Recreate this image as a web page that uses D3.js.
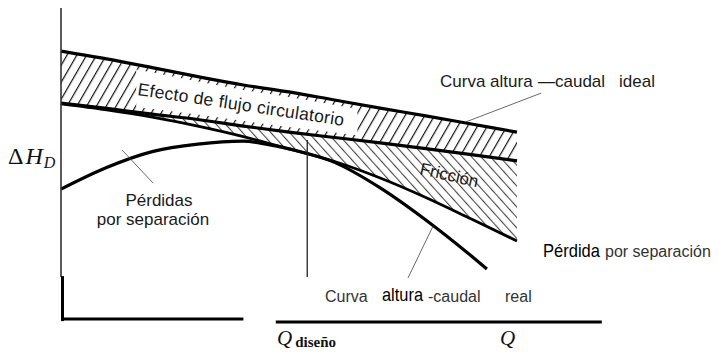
<!DOCTYPE html>
<html>
<head>
<meta charset="utf-8">
<script src="https://cdn.jsdelivr.net/npm/d3@7"></script>
<style>
  html, body { margin: 0; padding: 0; background: #fff; }
  svg { display: block; }
  .sans { font-family: "Liberation Sans", Arial, Helvetica, sans-serif; fill: #1a1a1a; }
  .serif { font-family: "Liberation Serif", "Times New Roman", serif; fill: #111; }
</style>
</head>
<body>
<svg id="chart" width="724" height="356"></svg>
<script>
// ---- data (Q in % of max ideal-curve flow, head in arbitrary units) ----
const qGrid = [0, 10, 20, 30, 40, 50, 60, 70, 80, 90, 100];
const idealHead = [90.3, 87.7, 84.8, 81.8, 79.0, 76.7, 74.0, 71.3, 68.7, 66.0, 63.3];
const circulationHead = [73.0, 71.2, 69.3, 67.5, 65.3, 63.3, 61.5, 59.7, 57.8, 55.8, 53.7];
const frictionHead = [72.7, 70.7, 68.3, 65.3, 61.8, 57.7, 53.5, 48.0, 41.5, 34.3, 27.0];
const qReal = [0, 10, 20, 30, 40, 45, 50, 60, 70, 80, 90, 93.4];
const realHead = [44.3, 51.5, 56.8, 59.3, 60.3, 59.3, 57.7, 53.2, 44.7, 34.0, 22.0, 17.7];
const qDesign = 54;

// ---- layout ----
const svg = d3.select("#chart");
const xS = d3.scaleLinear().domain([0, 100]).range([61, 517]);
const yS = d3.scaleLinear().domain([0, 100]).range([322, 22]);

const band = qGrid.map((q, i) => ({ q, top: idealHead[i], mid: circulationHead[i], fric: frictionHead[i] }));
const real = qReal.map((q, i) => ({ q, h: realHead[i] }));
const curve = d3.curveMonotoneX;

const defs = svg.append("defs");
function hatch(id, size, angle, sw) {
  const p = defs.append("pattern").attr("id", id).attr("patternUnits", "userSpaceOnUse")
    .attr("width", size).attr("height", size).attr("patternTransform", `rotate(${angle})`);
  p.append("line").attr("x1", 0.6).attr("y1", 0).attr("x2", 0.6).attr("y2", size)
    .attr("stroke", "#111").attr("stroke-width", sw);
}
hatch("hatchA", 8.5, 30, 1.2);
hatch("hatchB", 7, -42, 0.85);

// mask: hatching reduced to edge ticks under the label
const holeClip = defs.append("clipPath").attr("id", "holeClip");
holeClip.append("rect").attr("x", xS(16.5)).attr("y", 0).attr("width", xS(65) - xS(16.5)).attr("height", 356);
const mask = defs.append("mask").attr("id", "bandMask");
mask.append("rect").attr("x", 0).attr("y", 0).attr("width", 724).attr("height", 356).attr("fill", "#fff");
mask.append("path")
  .attr("d", d3.area().curve(curve).x(d => xS(d.q)).y0(d => yS(d.top) + 5).y1(d => yS(d.mid) - 5)(band))
  .attr("fill", "#000").attr("clip-path", "url(#holeClip)");

// circulation band
svg.append("path")
  .attr("d", d3.area().curve(curve).x(d => xS(d.q)).y0(d => yS(d.top)).y1(d => yS(d.mid))(band))
  .attr("fill", "url(#hatchA)").attr("mask", "url(#bandMask)");
// friction band
svg.append("path")
  .attr("d", d3.area().curve(curve).x(d => xS(d.q)).y0(d => yS(d.mid)).y1(d => yS(d.fric))(band))
  .attr("fill", "url(#hatchB)");

// curves
const line = (key) => d3.line().curve(curve).x(d => xS(d.q)).y(d => yS(d[key]));
svg.append("path").attr("d", line("top")(band)).attr("fill", "none").attr("stroke", "#000").attr("stroke-width", 3.2);
svg.append("path").attr("d", line("mid")(band)).attr("fill", "none").attr("stroke", "#000").attr("stroke-width", 3.2);
svg.append("path").attr("d", line("fric")(band)).attr("fill", "none").attr("stroke", "#000").attr("stroke-width", 2.8);
svg.append("path").attr("d", line("h")(real)).attr("fill", "none").attr("stroke", "#000").attr("stroke-width", 3.2);

// axes
svg.append("line").attr("x1", xS(0)).attr("x2", xS(0)).attr("y1", yS(104.7)).attr("y2", yS(15))
  .attr("stroke", "#333").attr("stroke-width", 1.6);
svg.append("line").attr("x1", xS(0) + 1.5).attr("x2", xS(0) + 1.5).attr("y1", yS(15.3)).attr("y2", yS(0.3))
  .attr("stroke", "#000").attr("stroke-width", 3);
svg.append("line").attr("x1", xS(0)).attr("x2", xS(40)).attr("y1", yS(1)).attr("y2", yS(1))
  .attr("stroke", "#000").attr("stroke-width", 3);
svg.append("line").attr("x1", xS(47.1)).attr("x2", xS(118.6)).attr("y1", yS(0)).attr("y2", yS(0))
  .attr("stroke", "#000").attr("stroke-width", 3);

// design flow line
svg.append("line").attr("x1", xS(qDesign)).attr("x2", xS(qDesign)).attr("y1", yS(60.7)).attr("y2", yS(15))
  .attr("stroke", "#222").attr("stroke-width", 1.3);

// leader lines
const leaders = [
  { q1: 105.3, h1: 76.3, q2: 88.8, h2: 66.7 },
  { q1: 13.4, h1: 57.3, q2: 20.2, h2: 46.3 },
  { q1: 81.6, h1: 32.0, q2: 76.1, h2: 14.7 }
];
svg.selectAll(".leader").data(leaders).join("line").attr("class", "leader")
  .attr("x1", d => xS(d.q1)).attr("y1", d => yS(d.h1)).attr("x2", d => xS(d.q2)).attr("y2", d => yS(d.h2))
  .attr("stroke", "#444").attr("stroke-width", 0.8);

// labels
const t = (x, y, txt, cls, size) => svg.append("text").attr("class", cls).attr("x", x).attr("y", y)
  .attr("font-size", size).text(txt);

// Delta H_D
const dh = svg.append("text").attr("class", "serif").attr("x", 8).attr("y", 164).attr("font-size", 24);
dh.append("tspan").text("Δ");
dh.append("tspan").attr("font-style", "italic").attr("dx", 2).text("H");
dh.append("tspan").attr("font-style", "italic").attr("font-size", 16).attr("dx", 1).attr("dy", 4).text("D");

// band labels
t(0, 0, "Efecto de flujo circulatorio", "sans", 17.5).attr("letter-spacing", 0.3)
  .attr("transform", "translate(137,95) rotate(8.5)");
t(0, 0, "Fricción", "sans", 17).attr("transform", "translate(419,174) rotate(13)");

t(440, 87, "Curva altura", "sans", 17);
t(538, 87, "—caudal", "sans", 17);
t(619, 87, "ideal", "sans", 17);

t(159, 206, "Pérdidas", "sans", 17).attr("text-anchor", "middle");
t(153, 225, "por separación", "sans", 17).attr("text-anchor", "middle");

t(543, 257, "Pérdida", "sans", 19).attr("textLength", 57).attr("lengthAdjust", "spacingAndGlyphs").style("fill", "#000");
t(605, 257, "por separación", "sans", 16).style("fill", "#333");

t(325, 302, "Curva", "sans", 16).style("fill", "#333");
t(382, 301, "altura", "sans", 19).attr("textLength", 41).attr("lengthAdjust", "spacingAndGlyphs").style("fill", "#000");
t(428, 302, "-caudal", "sans", 16).style("fill", "#333");
t(505, 302, "real", "sans", 16).style("fill", "#333");

// Q labels
const qd = svg.append("text").attr("class", "serif").attr("x", 277).attr("y", 345).attr("font-size", 21);
qd.append("tspan").attr("font-style", "italic").text("Q");
qd.append("tspan").attr("font-size", 15).attr("font-weight", "bold").attr("dx", 3).attr("dy", 2).text("diseño");
t(500, 345, "Q", "serif", 21).attr("font-style", "italic");
</script>
</body>
</html>
